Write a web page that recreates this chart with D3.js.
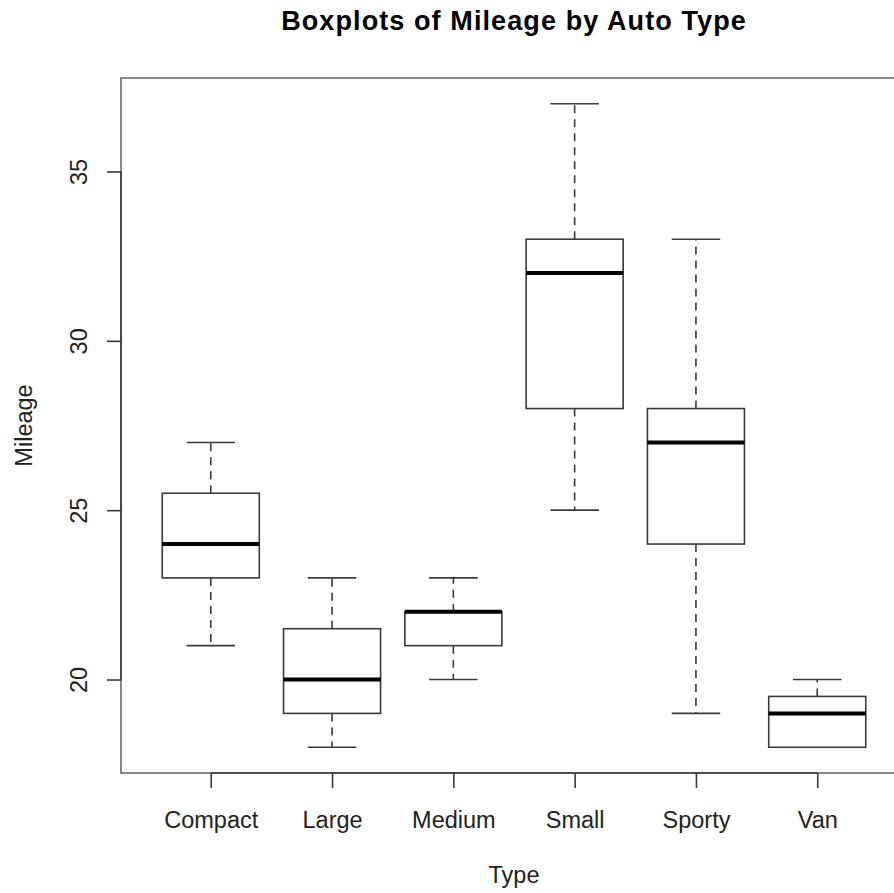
<!DOCTYPE html>
<html>
<head>
<meta charset="utf-8">
<script src="https://cdn.jsdelivr.net/npm/d3@7"></script>
<style>
  html, body { margin: 0; padding: 0; background: #fff; }
  svg { display: block; font-family: "Liberation Sans", Arial, Helvetica, sans-serif; }
</style>
</head>
<body>
<svg id="chart" width="894" height="893"></svg>
<script>
// Five-number summaries of mileage per auto type
const types   = ["Compact", "Large", "Medium", "Small", "Sporty", "Van"];
const lowers  = [21, 18, 20, 25, 19, 18];
const q1s     = [23, 19, 21, 28, 24, 18];
const medians = [24, 20, 22, 32, 27, 19];
const q3s     = [25.5, 21.5, 22, 33, 28, 19.5];
const uppers  = [27, 23, 23, 37, 33, 20];
const yTicks  = [20, 25, 30, 35];

const stats = types.map((t, i) => ({
  type: t, pos: i + 1,
  lo: lowers[i], q1: q1s[i], med: medians[i], q3: q3s[i], hi: uppers[i]
}));

const svg = d3.select("#chart");
const plotLeft = 121, plotRight = 907, plotTop = 78, plotBottom = 773;
const labelSize = 23.5;

// R-style extended ranges (4% padding)
const yMin = d3.min(lowers), yMax = d3.max(uppers);
const yPad = (yMax - yMin) * 0.04;
const y = d3.scaleLinear().domain([yMin - yPad, yMax + yPad]).range([plotBottom, plotTop]);
const xPad = types.length * 0.04;
const x = d3.scaleLinear().domain([0.5 - xPad, types.length + 0.5 + xPad]).range([plotLeft, plotRight]);

const unit = x(2) - x(1);
const boxW = 0.8 * unit;
const stapleW = boxW * 0.5;
const lineCol = "#3a3a3a";
const lw = 1.6;

// frame
svg.append("rect")
  .attr("x", plotLeft).attr("y", plotTop)
  .attr("width", plotRight - plotLeft).attr("height", plotBottom - plotTop)
  .attr("fill", "none").attr("stroke", "#6a6a6a").attr("stroke-width", lw);

// y axis
const yAxis = d3.axisLeft(y).tickValues(yTicks).tickSize(14).tickFormat(d3.format("d"));
const gy = svg.append("g").attr("transform", `translate(${plotLeft},0)`).call(yAxis);
gy.select(".domain").remove();
gy.append("line")
  .attr("x1", 0).attr("x2", 0)
  .attr("y1", y(d3.min(yTicks))).attr("y2", y(d3.max(yTicks)))
  .attr("stroke", lineCol).attr("stroke-width", lw);
gy.selectAll(".tick line").attr("stroke", lineCol).attr("stroke-width", lw);
gy.selectAll(".tick text")
  .attr("x", null).attr("dy", null)
  .attr("transform", `translate(${87 - plotLeft},0) rotate(-90)`)
  .attr("text-anchor", "middle")
  .attr("font-size", labelSize).attr("fill", "#222")
  .attr("font-family", "'Liberation Sans', Arial, sans-serif");

// x axis
const xAxis = d3.axisBottom(x).tickValues(stats.map(d => d.pos)).tickSize(15)
  .tickFormat((d, i) => types[i]);
const gx = svg.append("g").attr("transform", `translate(0,${plotBottom})`).call(xAxis);
gx.select(".domain").remove();
gx.append("line")
  .attr("x1", x(1)).attr("x2", x(types.length))
  .attr("y1", 0).attr("y2", 0)
  .attr("stroke", lineCol).attr("stroke-width", lw);
gx.selectAll(".tick line").attr("stroke", lineCol).attr("stroke-width", lw);
gx.selectAll(".tick text")
  .attr("y", 828 - plotBottom).attr("dy", null)
  .attr("font-size", labelSize).attr("fill", "#222")
  .attr("font-family", "'Liberation Sans', Arial, sans-serif");

// boxes
const box = svg.append("g").selectAll("g.box").data(stats).join("g").attr("class", "box");

// dashed whiskers
box.append("line")
  .attr("x1", d => x(d.pos)).attr("x2", d => x(d.pos))
  .attr("y1", d => y(d.q3)).attr("y2", d => y(d.hi))
  .attr("stroke", lineCol).attr("stroke-width", lw).attr("stroke-dasharray", "8,6");
box.append("line")
  .attr("x1", d => x(d.pos)).attr("x2", d => x(d.pos))
  .attr("y1", d => y(d.q1)).attr("y2", d => y(d.lo))
  .attr("stroke", lineCol).attr("stroke-width", lw).attr("stroke-dasharray", "8,6");
// staples
box.append("line")
  .attr("x1", d => x(d.pos) - stapleW / 2).attr("x2", d => x(d.pos) + stapleW / 2)
  .attr("y1", d => y(d.hi)).attr("y2", d => y(d.hi))
  .attr("stroke", lineCol).attr("stroke-width", lw);
box.append("line")
  .attr("x1", d => x(d.pos) - stapleW / 2).attr("x2", d => x(d.pos) + stapleW / 2)
  .attr("y1", d => y(d.lo)).attr("y2", d => y(d.lo))
  .attr("stroke", lineCol).attr("stroke-width", lw);
// box body
box.append("rect")
  .attr("x", d => x(d.pos) - boxW / 2).attr("width", boxW)
  .attr("y", d => y(d.q3)).attr("height", d => y(d.q1) - y(d.q3))
  .attr("fill", "#fff").attr("stroke", lineCol).attr("stroke-width", lw);
// median
box.append("line")
  .attr("x1", d => x(d.pos) - boxW / 2).attr("x2", d => x(d.pos) + boxW / 2)
  .attr("y1", d => y(d.med)).attr("y2", d => y(d.med))
  .attr("stroke", "#000").attr("stroke-width", 4);

// titles
svg.append("text")
  .attr("x", (plotLeft + plotRight) / 2).attr("y", 30)
  .attr("text-anchor", "middle")
  .attr("font-size", 27).attr("letter-spacing", 1.1)
  .attr("font-weight", "bold").attr("fill", "#000")
  .text("Boxplots of Mileage by Auto Type");
svg.append("text")
  .attr("x", (plotLeft + plotRight) / 2).attr("y", 883)
  .attr("text-anchor", "middle")
  .attr("font-size", labelSize).attr("fill", "#222")
  .text("Type");
svg.append("text")
  .attr("transform", `translate(32,${(plotTop + plotBottom) / 2}) rotate(-90)`)
  .attr("text-anchor", "middle")
  .attr("font-size", labelSize).attr("fill", "#222")
  .text("Mileage");
</script>
</body>
</html>
